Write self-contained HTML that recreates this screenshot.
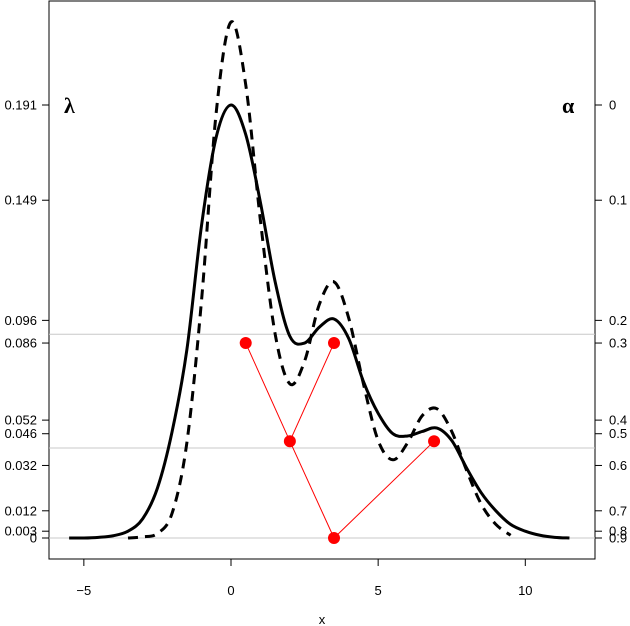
<!DOCTYPE html>
<html><head><meta charset="utf-8"><style>
html,body{margin:0;padding:0;background:#fff}
svg{display:block;font-family:"Liberation Sans",sans-serif}
</style></head><body>
<svg id="chart" width="630" height="626" viewBox="0 0 630 626">
<rect x="49" y="1" width="546" height="558" fill="none" stroke="#000" stroke-width="1"/>
<g id="grid"></g>
<g id="axes"></g>
<g id="curves"></g>
<g id="tree"></g>
<text x="64" y="113" font-size="22" font-weight="bold" font-family="Liberation Serif, serif">λ</text>
<text x="562" y="113" font-size="22" font-weight="bold" font-family="Liberation Serif, serif">α</text>
<text x="322" y="624" font-size="13" text-anchor="middle">x</text>
</svg>
<script>
const xTicks=[-5,0,5,10];
const leftTicks=[0.191,0.149,0.096,0.086,0.052,0.046,0.032,0.012,0.003,0];
const leftLabels=["0.191","0.149","0.096","0.086","0.052","0.046","0.032","0.012","0.003","0"];
const rightLabels=["0","0.1","0.2","0.3","0.4","0.5","0.6","0.7","0.8","0.9"];
const gridLevels=[0.0899,0.0397,0];
const solidX=[-5.5,-5,-4.5,-4,-3.5,-3,-2.5,-2,-1.5,-1,-0.5,0,0.5,1,1.5,2,2.5,3,3.5,4,4.5,5,5.5,6,6.5,7,7.5,8,8.5,9,9.5,10,10.5,11,11.5];
const solidY=[0,0,0.0003,0.001,0.003,0.0085,0.022,0.047,0.083,0.138,0.177,0.191,0.178,0.148,0.113,0.089,0.086,0.093,0.0966,0.088,0.069,0.055,0.046,0.045,0.047,0.0485,0.043,0.031,0.02,0.012,0.006,0.003,0.0012,0.0003,0];
const dashX=[-3.5,-3,-2.5,-2,-1.5,-1,-0.5,0,0.5,1,1.5,2,2.5,3,3.5,4,4.5,5,5.5,6,6.5,7,7.5,8,8.5,9,9.5];
const dashY=[0,0.0005,0.002,0.011,0.042,0.105,0.188,0.2276,0.2,0.14,0.09,0.068,0.078,0.103,0.113,0.097,0.068,0.043,0.0345,0.042,0.054,0.057,0.047,0.03,0.015,0.006,0.0012];
const nodeX=[0.5,2,3.5,3.5,6.9];
const nodeY=[0.086,0.0427,0.086,0,0.0427];
const edges=[[0,1],[1,2],[1,3],[3,4]];
const sx=v=>231+29.43*v, sy=v=>538-2267*v;
const NS="http://www.w3.org/2000/svg";
function mk(t,a,p){const e=document.createElementNS(NS,t);for(const k in a)e.setAttribute(k,a[k]);p.appendChild(e);return e;}
const G=document.getElementById('grid'),A=document.getElementById('axes'),C=document.getElementById('curves'),T=document.getElementById('tree');
gridLevels.forEach(v=>{const l=mk('line',{x1:49,x2:595,y1:sy(v),y2:sy(v),stroke:'#c8c8c8','stroke-width':1},G);

});
xTicks.forEach(v=>{const l=mk('line',{x1:sx(v),x2:sx(v),y1:559,y2:566,stroke:'#000'},A);


const t=mk('text',{x:sx(v),y:595,'font-size':13,'text-anchor':'middle'},A);t.textContent=(v<0?'\u2212'+(-v):v);

});
leftTicks.forEach((v,i)=>{const y=sy(v);
const l=mk('line',{x1:42,x2:49,y1:y,y2:y,stroke:'#000'},A);


const t=mk('text',{x:37,y:y+4.5,'font-size':13,'text-anchor':'end'},A);t.textContent=leftLabels[i];


const r=mk('line',{x1:595,x2:602,y1:y,y2:y,stroke:'#000'},A);


const rt=mk('text',{x:609,y:y+4.5,'font-size':13},A);rt.textContent=rightLabels[i];

});
function path(xs,ys){const p=xs.map((x,i)=>[sx(x),sy(ys[i])]);let d='M'+p[0][0]+','+p[0][1];
for(let i=0;i<p.length-1;i++){const p0=p[Math.max(0,i-1)],p1=p[i],p2=p[i+1],p3=p[Math.min(p.length-1,i+2)];
d+=' C'+(p1[0]+(p2[0]-p0[0])/6)+','+(p1[1]+(p2[1]-p0[1])/6)+' '+(p2[0]-(p3[0]-p1[0])/6)+','+(p2[1]-(p3[1]-p1[1])/6)+' '+p2[0]+','+p2[1];}return d;}
const s=mk('path',{d:path(solidX,solidY),fill:'none',stroke:'#000','stroke-width':3},C);


const dd=mk('path',{d:path(dashX,dashY),fill:'none',stroke:'#000','stroke-width':3,'stroke-dasharray':'10 7'},C);


edges.forEach(e=>{const l=mk('line',{x1:sx(nodeX[e[0]]),y1:sy(nodeY[e[0]]),x2:sx(nodeX[e[1]]),y2:sy(nodeY[e[1]]),stroke:'red','stroke-width':1},T);

});
nodeX.forEach((x,i)=>{const c=mk('circle',{cx:sx(x),cy:sy(nodeY[i]),r:6,fill:'red'},T);

});
</script>
</body></html>
